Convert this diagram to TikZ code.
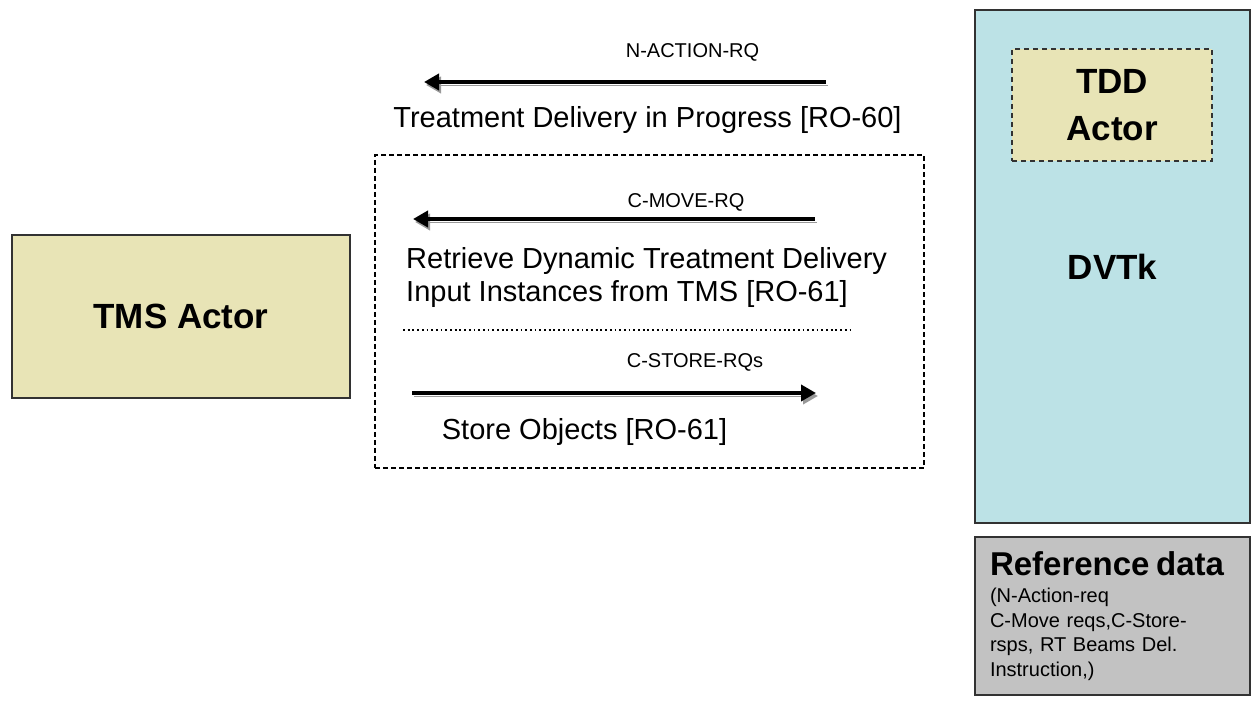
\documentclass[tikz,border=0pt]{standalone}
\usepackage{fontspec}
\setmainfont{Liberation Sans}
\usepackage{tikz}
\usetikzlibrary{arrows.meta,positioning}
\definecolor{actorfill}{RGB}{232,228,182}
\definecolor{dvtkfill}{RGB}{188,226,230}
\definecolor{reffill}{RGB}{194,194,194}
\definecolor{boxline}{RGB}{50,50,50}

\begin{document}
\begin{tikzpicture}[x=1pt,y=-1pt,>={Triangle[length=15pt,width=16pt]},
  actor node/.style={draw=boxline,line width=1.3pt,fill=actorfill,
  inner sep=0pt,font=\fontsize{35}{47}\selectfont\bfseries},
  dvtk node/.style={draw=boxline,line width=1.3pt,fill=dvtkfill,
  inner sep=0pt,font=\fontsize{35}{42}\selectfont\bfseries},
  ref node/.style={draw=boxline,line width=1.3pt,fill=reffill,
  inner xsep=15pt,inner ysep=0pt,font=\fontsize{20}{24.5}\selectfont},
  frame node/.style={draw,line width=1.1pt,dash pattern=on 5pt off 3pt},
  msg/.style={->,line width=4.5pt,
  preaction={draw=black!40,transform canvas={shift={(2pt,-3pt)}}}},
  msg label/.style={anchor=base,inner sep=0pt,font=\fontsize{20}{24}\selectfont},
  msg text/.style={anchor=base,inner sep=0pt,font=\fontsize{29}{33}\selectfont}]

  \useasboundingbox (0,0) rectangle (1259,703);

  % actors
  \node[actor node,minimum width=338pt,minimum height=163pt] (TMS) at (181,316.5) {TMS Actor};
  \node[dvtk node,minimum width=275pt,minimum height=513pt] (DVTK) at (1112.5,266.5) {DVTk};
  \node[actor node,line width=1.8pt,dash pattern=on 5pt off 4pt,align=center,
    minimum width=200pt,minimum height=112pt] (TDD) at (1112,105) {TDD\\Actor};
  \node[ref node,minimum width=275pt,minimum height=158pt,text width=245pt,
    align=left] (REF) at (1112.5,616)
    {{\fontsize{33}{34}\selectfont\bfseries Reference data}\\[3pt]
     (N-Action-req\\C-Move reqs,C-Store-\\rsps, RT Beams Del.\\Instruction,)};

  % group of the RO-61 messages
  \node[frame node,minimum width=549pt,minimum height=313pt] (GRP) at (649.5,311.5) {};
  \coordinate (S1) at (403,330);
  \coordinate (S2) at (850,330);
  \draw[line width=1.8pt,dash pattern=on 1.8pt off 2.9pt] (S1) -- (S2);

  % message ends
  \coordinate (A1) at (826,82);
  \coordinate (B1) at (424,82);
  \coordinate (A2) at (815,219);
  \coordinate (B2) at (413,219);
  \coordinate (A3) at (412,393);
  \coordinate (B3) at (816,393);

  \draw[msg] (A1) -- (B1);
  \draw[msg] (A2) -- (B2);
  \draw[msg] (A3) -- (B3);

  \node[msg label] (NACT) at (692.5,58) {N-ACTION-RQ};
  \node[msg text] (TDIP) at (647.5,128) {Treatment Delivery in Progress [RO-60]};
  \node[msg label] (CMOV) at (686,208) {C-MOVE-RQ};
  \node[msg text,anchor=north west,align=left] (RDTD) at (406,247)
    {Retrieve Dynamic Treatment Delivery\\Input Instances from TMS [RO-61]};
  \node[msg label] (CSTO) at (695,368) {C-STORE-RQs};
  \node[msg text] (STOB) at (584.5,439) {Store Objects [RO-61]};
\end{tikzpicture}
\end{document}
